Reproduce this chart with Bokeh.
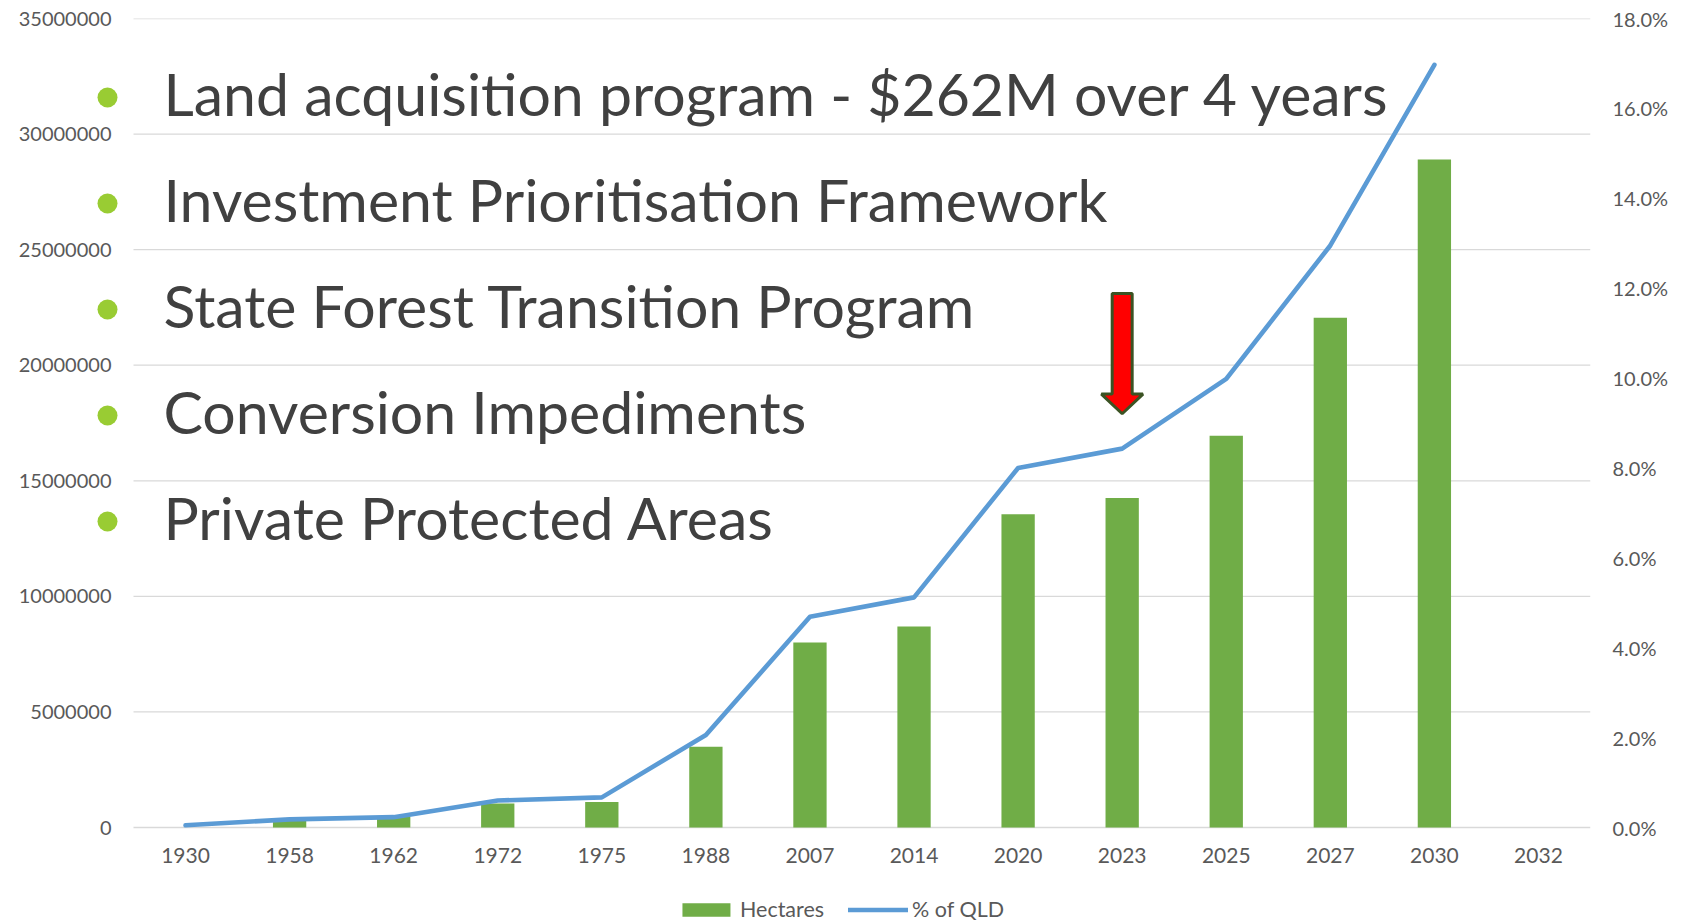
from bokeh.plotting import figure
from bokeh.models import (Range1d, LinearAxis, FixedTicker, NumeralTickFormatter,
                          Legend, LegendItem, Label, ColumnDataSource)
from bokeh.embed import file_html
from bokeh.resources import INLINE

# ---- data ----
years = ["1930", "1958", "1962", "1972", "1975", "1988", "2007", "2014",
         "2020", "2023", "2025", "2027", "2030", "2032"]
hectares = [0, 400000, 450000, 1040000, 1100000, 3490000, 8000000, 8700000,
            13550000, 14250000, 16950000, 22050000, 28900000, None]
pct_qld = [0.0005, 0.0018, 0.0023, 0.0060, 0.0067, 0.0206, 0.0469, 0.0512,
           0.0800, 0.0843, 0.0998, 0.1295, 0.1697, None]
left_ticks = [0, 5000000, 10000000, 15000000, 20000000, 25000000, 30000000, 35000000]
right_ticks = [0.0, 0.02, 0.04, 0.06, 0.08, 0.10, 0.12, 0.14, 0.16, 0.18]
bullets = ["Land acquisition program - $262M over 4 years",
           "Investment Prioritisation Framework",
           "State Forest Transition Program",
           "Conversion Impediments",
           "Private Protected Areas"]
arrow_year = "2023"
arrow_top = 23100000
arrow_neck = 18750000
arrow_tip = 17900000

W, H = 1685, 922
FL, FR, FT, FB = 133, 1590, 18, 827     # plot area (gridlines / categories)
FLX = 90                                # frame extended left to hold bullets
LMAX = 35000000
PMAX = 0.18
FONT = "Lato"
GREY = "#595959"

n = len(years)
cw = (FR - FL) / n
ext = (H - FB) / (FB - FT)              # frame extended down to hold axis + legend
xc = [i + 0.5 for i in range(n)]
src = ColumnDataSource(dict(x=[xc[i] for i in range(n) if hectares[i] is not None],
                            h=[v for v in hectares if v is not None]))
lsrc = ColumnDataSource(dict(x=[xc[i] for i in range(n) if pct_qld[i] is not None],
                             p=[v for v in pct_qld if v is not None]))

p = figure(frame_width=FR - FLX, frame_height=H - FT, output_backend="svg",
           toolbar_location=None,
           x_range=Range1d(-(FL - FLX) / cw, n), y_range=Range1d(-ext * LMAX, LMAX),
           min_border_left=FLX, min_border_right=W - FR, min_border_top=FT,
           min_border_bottom=0, outline_line_color=None)
p.extra_y_ranges = {"pct": Range1d(-ext * PMAX, PMAX)}

# gridlines over the category area only
p.segment(x0=[0] * len(left_ticks), x1=[n] * len(left_ticks), y0=left_ticks,
          y1=left_ticks, line_color="#D9D9D9", line_width=1.3, level="underlay")

bars = p.vbar(x="x", top="h", width=0.32, source=src, fill_color="#70AD47",
              line_color=None)
line = p.line(x="x", y="p", source=lsrc, y_range_name="pct", line_color="#5B9BD5",
              line_width=4.6, line_cap="round", line_join="round")

# axes
p.xaxis.ticker = FixedTicker(ticks=xc)
p.xaxis.major_label_overrides = {xc[i]: years[i] for i in range(n)}
p.xaxis.fixed_location = 0
p.yaxis.ticker = FixedTicker(ticks=left_ticks)
p.yaxis.formatter = NumeralTickFormatter(format="0")
ra = LinearAxis(y_range_name="pct", ticker=FixedTicker(ticks=right_ticks),
                formatter=NumeralTickFormatter(format="0.0%"))
p.add_layout(ra, "right")
for ax in [p.xaxis[0], p.yaxis[0], ra]:
    ax.axis_line_color = None
    ax.major_tick_line_color = None
    ax.minor_tick_line_color = None
    ax.major_label_text_font = FONT
    ax.major_label_text_font_size = "21px"
    ax.major_label_text_color = GREY
p.yaxis.major_label_text_font_size = "20px"
p.xaxis.major_label_standoff = 14
p.yaxis.major_label_standoff = -(117 - FLX)
ra.major_label_standoff = 16
p.xgrid.grid_line_color = None
p.ygrid.grid_line_color = None

# helpers for screen -> data positions of annotations
def xdata(sx):
    return (sx - FL) / cw

def ydata(sy):
    return (FB - sy) / (FB - FT) * LMAX

dot_x, dot_y = [], []
for i, t in enumerate(bullets):
    base = 117 + 106 * i
    p.add_layout(Label(x=xdata(163), y=ydata(base - 24), text=t, text_font=FONT,
                       text_font_size="59px", text_color="#404040",
                       text_baseline="alphabetic", text_align="left"))
    dot_x.append(xdata(107))
    dot_y.append(ydata(base - 20))
p.scatter(x=dot_x, y=dot_y, size=20, marker="circle", fill_color="#99CC33",
          line_color=None)

# arrow
ai = years.index(arrow_year)
cx = xc[ai]
sw, hw = 0.096, 0.2
p.patch(x=[cx - sw, cx + sw, cx + sw, cx + hw, cx, cx - hw, cx - sw],
        y=[arrow_top, arrow_top, arrow_neck, arrow_neck, arrow_tip, arrow_neck, arrow_neck],
        fill_color="#FF0000", line_color="#3B5323", line_width=3)

legend = Legend(items=[LegendItem(label="Hectares", renderers=[bars]),
                       LegendItem(label="% of QLD", renderers=[line])],
                orientation="horizontal", location="bottom_center",
                border_line_color=None, background_fill_alpha=0,
                glyph_width=60, glyph_height=17, label_standoff=4, spacing=24,
                label_text_font=FONT, label_text_font_size="21.5px",
                label_text_color=GREY, margin=0, padding=0)
p.add_layout(legend, "center")

open("out.html", "w").write(file_html(p, INLINE))
